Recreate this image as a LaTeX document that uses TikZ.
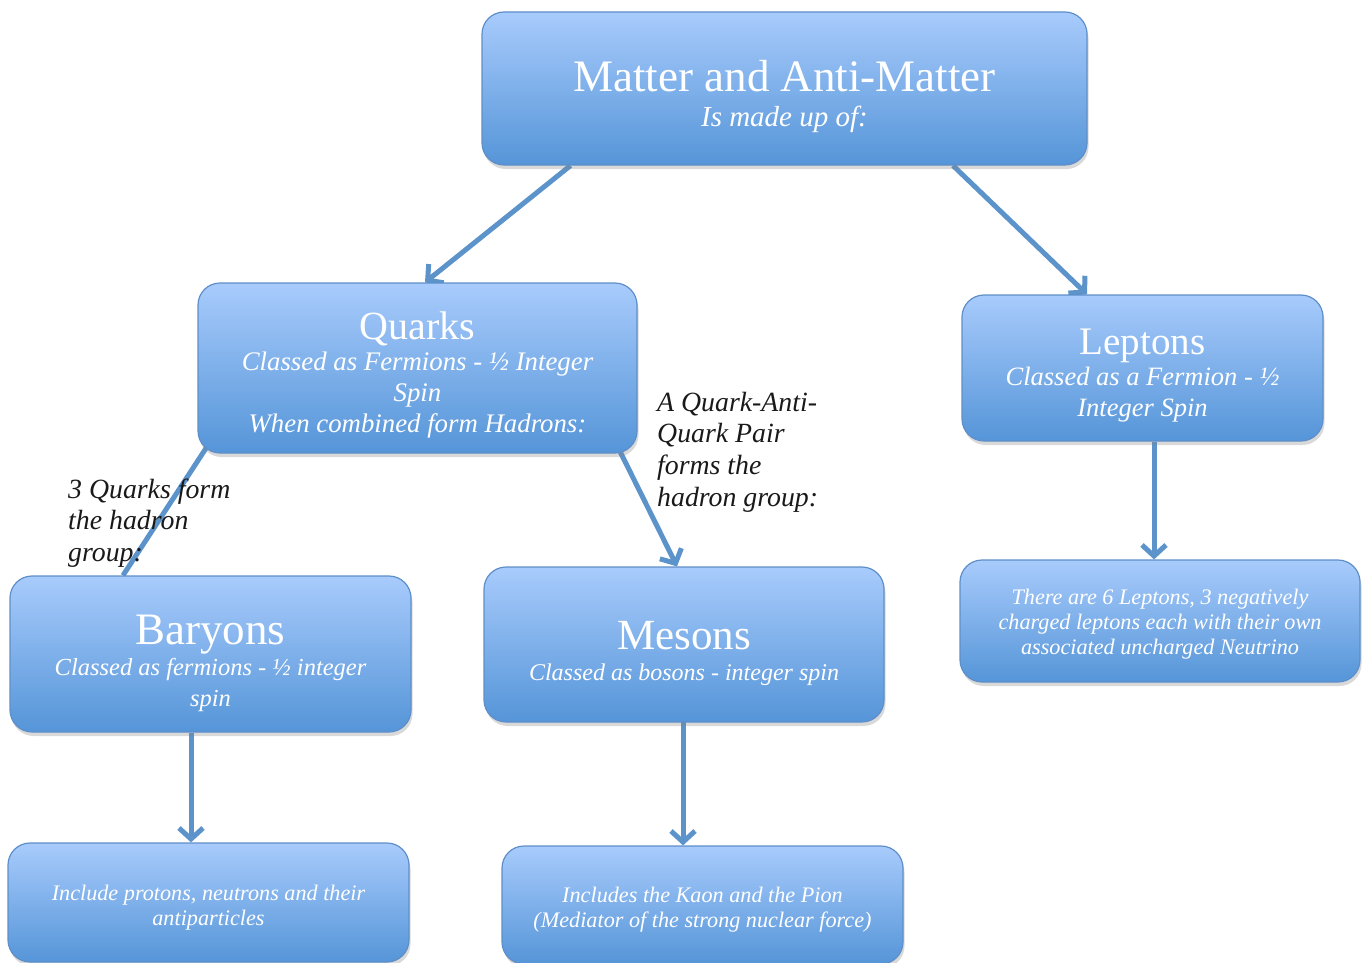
\documentclass[tikz,border=0pt]{standalone}
\usepackage{fontspec}
\setmainfont{Liberation Serif}
\usetikzlibrary{arrows.meta}
\usetikzlibrary{shadows}
\usetikzlibrary{backgrounds}
\definecolor{boxtop}{HTML}{A8CBFC}
\definecolor{boxbot}{HTML}{5595D8}
\definecolor{boxline}{HTML}{5E8FC9}
\definecolor{arrowblue}{HTML}{5B93CA}
\newcommand{\boxtitle}[2][44]{{\upshape\fontsize{#1}{#1}\selectfont\rule{0pt}{1.05em}#2}}
\newcommand{\topgap}{\rule{0pt}{25pt}}

\tikzset{
  pbox/.style={rounded corners=22pt, draw=boxline, line width=1.2pt,
    top color=boxtop, bottom color=boxbot, text=white, align=center,
    inner sep=0pt, subsize=24,
    drop shadow={opacity=0.3, shadow xshift=1.5pt, shadow yshift=-4pt}},
  subsize/.style={font=\fontsize{#1}{31}\selectfont\itshape},
  sbox/.style={pbox, font=\fontsize{22.2}{25}\selectfont\itshape},
  link/.style={draw=arrowblue, line width=5pt, -{Straight Barb[length=11pt,width=24pt]}},
  plink/.style={draw=arrowblue, line width=5pt},
  note/.style={align=left, anchor=west, inner sep=0pt, text=black!90,
    font=\fontsize{27.8}{31.6}\selectfont\itshape}
}

\begin{document}
\begin{tikzpicture}[x=1pt,y=-1pt]
\useasboundingbox (0,0) rectangle (1367,963);
\coordinate (mat) at (784.5,88.5);
\coordinate (qua) at (417.5,368);
\coordinate (lep) at (1142.5,368);
\coordinate (bar) at (210.5,654);
\coordinate (mes) at (684,644.5);
\coordinate (pro) at (208.5,902.5);
\coordinate (kao) at (702.5,905);
\coordinate (neu) at (1160,621);
% draws boxes
\node[pbox, subsize=29, minimum width=605, minimum height=153] (matter) at (mat)
  {\boxtitle[45]{Matter and Anti-Matter}\\[4pt]Is made up of:};
\node[pbox, subsize=26.8, minimum width=439, minimum height=170] (quarks) at (qua)
  {\boxtitle[40]{Quarks}\\Classed as Fermions - ½ Integer\\Spin\\When combined form Hadrons:};
\node[pbox, subsize=26.5, minimum width=361, minimum height=146] (leptons) at (lep)
  {\boxtitle[39]{Leptons}\\Classed as a Fermion - ½\\Integer Spin};
\node[pbox, subsize=24.5, minimum width=401, minimum height=156] (baryons) at (bar)
  {\boxtitle[45]{Baryons}\\Classed as fermions - ½ integer\\spin};
\node[pbox, minimum width=400, minimum height=155] (mesons) at (mes)
  {\boxtitle[43]{Mesons}\\Classed as bosons - integer spin};
\node[sbox, minimum width=401, minimum height=119] (protons) at (pro)
  {\topgap Include protons, neutrons and their\\antiparticles};
\node[sbox, minimum width=401, minimum height=118] (kaon) at (kao)
  {\topgap Includes the Kaon and the Pion\\(Mediator of the strong nuclear force)};
\node[sbox, minimum width=400, minimum height=122] (neutrino) at (neu)
  {\rule{0pt}{21pt}There are 6 Leptons, 3 negatively\\charged leptons each with their own\\associated uncharged Neutrino};
% labels links
\node[note] (threeq) at (68,523) {3 Quarks form\\the hadron\\group:};
\node[note] (pairq) at (657,452) {A Quark-Anti-\\Quark Pair\\forms the\\hadron group:};
% draws links
\begin{scope}[on background layer]
\draw[link] ([xshift=-214pt]matter.south) to ([xshift=7.5pt]quarks.north);
\draw[link] ([xshift=168.5pt]matter.south) to ([xshift=-55.5pt]leptons.north);
\draw[plink] ([xshift=9pt,yshift=6pt]quarks.south west) to ([xshift=-87.5pt]baryons.north);
\draw[link] ([xshift=-18pt,yshift=3pt]quarks.south east) to ([xshift=-7pt]mesons.north);
\draw[link] ([xshift=11.5pt]leptons.south) to ([xshift=-6pt]neutrino.north);
\draw[link] ([xshift=-19.5pt]baryons.south) to ([xshift=-17.5pt]protons.north);
\draw[link] ([xshift=-1pt,yshift=10pt]mesons.south) to ([xshift=-19.5pt]kaon.north);
\end{scope}
\end{tikzpicture}
\end{document}
